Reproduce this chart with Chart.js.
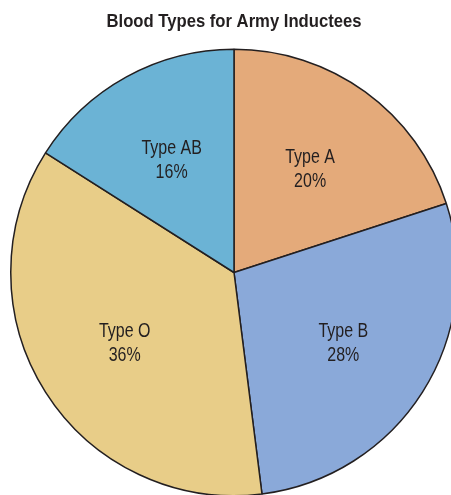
<!DOCTYPE html>
<html>
<head>
<meta charset="utf-8">
<script src="https://cdn.jsdelivr.net/npm/chart.js@4"></script>
<style>
html,body{margin:0;padding:0;overflow:hidden;background:#fff;}
canvas{display:block;}
</style>
</head>
<body>
<canvas id="c" width="468" height="497"></canvas>
<script>
const categories = ['Type A', 'Type B', 'Type O', 'Type AB'];
const percents = [20, 28, 36, 16];
const colors = ['#E4AA7A', '#8AA9D9', '#E8CD88', '#6BB3D5'];
const titleText = 'Blood Types for Army Inductees';

const FONT = '"Liberation Sans", Arial, sans-serif';

// draws condensed text (horizontal squeeze mimics a narrow typeface)
function narrowText(ctx, text, x, y, squeeze) {
  ctx.save();
  ctx.translate(x, y);
  ctx.scale(squeeze, 1);
  ctx.fillText(text, 0, 0);
  ctx.restore();
}

const titlePlugin = {
  id: 'narrowTitle',
  afterDraw(chart) {
    const ctx = chart.ctx;
    ctx.save();
    ctx.fillStyle = '#231F20';
    ctx.font = 'bold 18.5px ' + FONT;
    ctx.textAlign = 'center';
    ctx.textBaseline = 'alphabetic';
    const cx = (chart.chartArea.left + chart.chartArea.right) / 2;
    narrowText(ctx, titleText, cx, 27, 0.9);
    ctx.restore();
  }
};

const labelPlugin = {
  id: 'sliceLabels',
  afterDatasetsDraw(chart) {
    const ctx = chart.ctx;
    const meta = chart.getDatasetMeta(0);
    ctx.save();
    ctx.fillStyle = '#231F20';
    ctx.font = '20px ' + FONT;
    ctx.textAlign = 'center';
    ctx.textBaseline = 'alphabetic';
    meta.data.forEach((arc, i) => {
      const p = arc.getProps(['x', 'y', 'startAngle', 'endAngle', 'outerRadius'], true);
      const mid = (p.startAngle + p.endAngle) / 2;
      const r = p.outerRadius * 0.58;
      const cx = p.x + Math.cos(mid) * r;
      const cy = p.y + Math.sin(mid) * r;
      narrowText(ctx, categories[i], cx, cy - 5, 0.8);
      narrowText(ctx, percents[i] + '%', cx, cy + 19, 0.8);
    });
    ctx.restore();
  }
};

new Chart(document.getElementById('c'), {
  type: 'pie',
  data: {
    labels: categories,
    datasets: [{
      data: percents,
      backgroundColor: colors,
      borderColor: '#231F20',
      borderWidth: 1.5
    }]
  },
  options: {
    responsive: false,
    animation: false,
    devicePixelRatio: 1,
    layout: { padding: { left: 10, right: 10, top: 48, bottom: 0 } },
    plugins: {
      legend: { display: false },
      tooltip: { enabled: false },
      title: { display: false }
    }
  },
  plugins: [labelPlugin, titlePlugin]
});
</script>
</body>
</html>
